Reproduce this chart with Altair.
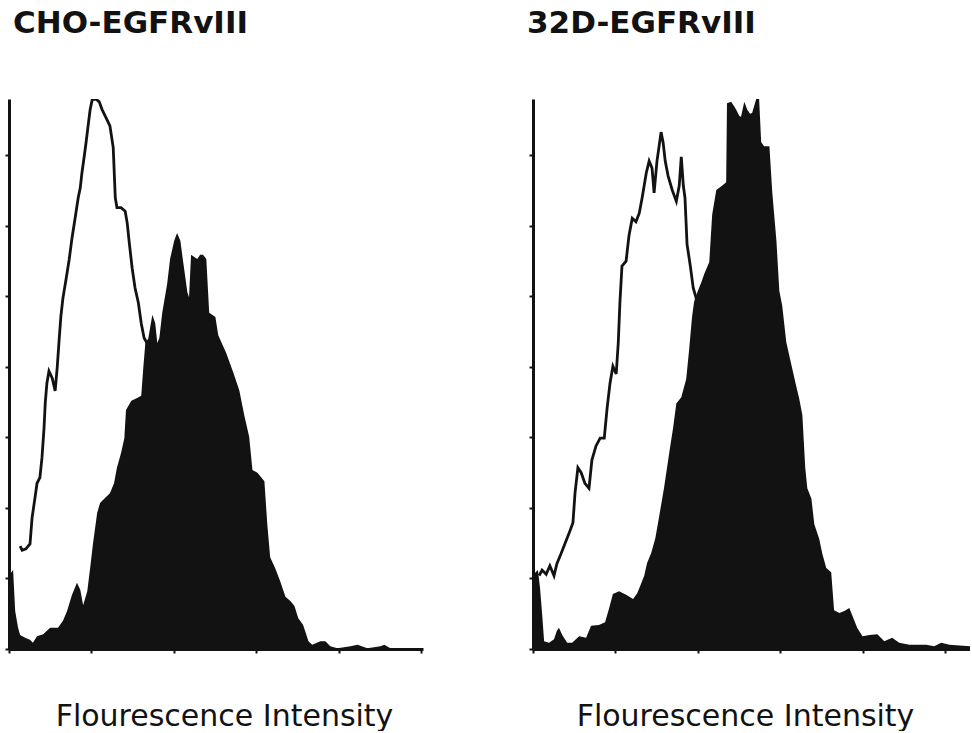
import altair as alt
import pandas as pd

# ---------------- data (channel, event count) ----------------
# CHO-EGFRvIII : control (open outline)
cho_ctrl_x = [27, 32, 41, 51, 56, 63, 68, 75, 80, 85, 88, 92, 97, 105, 112, 117, 122, 126, 131, 139,
              146, 153, 160, 168, 173, 177, 182, 187, 192, 197, 202, 211, 219, 226, 236, 245, 253, 258, 262, 272,
              282, 287, 292, 299, 306, 314, 321, 328, 335, 343, 367, 403, 440, 464]
cho_ctrl_y = [14.6, 14.0, 14.2, 14.9, 18.6, 21.4, 23.5, 24.3, 27.1, 31.3, 34.9, 37.7, 39.4, 38.4, 36.6, 39.9, 44.1, 47.2, 49.8, 52.6,
              55.2, 58.3, 60.9, 64.0, 65.4, 67.5, 69.6, 71.8, 74.2, 76.5, 77.9, 78.0, 77.6, 76.5, 75.3, 74.2, 71.1, 64.0, 62.6, 62.6,
              62.1, 60.4, 57.6, 54.0, 51.2, 49.1, 46.2, 44.1, 43.4, 38.4, 28.5, 12.9, 1.6, 0.0]
# CHO-EGFRvIII : antibody stained (filled)
cho_stain_x = [0, 2, 5, 10, 15, 22, 27, 39, 51, 58, 68, 83, 100, 119, 131, 141, 153, 165, 173, 180,
               190, 197, 204, 214, 221, 233, 245, 255, 262, 272, 280, 284, 297, 311, 321, 326, 331, 338, 348, 355,
               360, 365, 372, 384, 391, 401, 408, 416, 423, 433, 437, 442, 457, 464, 471, 479, 486, 501, 508, 527,
               544, 559, 571, 583, 591, 603, 620, 627, 634, 646, 659, 671, 683, 693, 702, 714, 727, 736, 756, 768,
               780, 797, 829, 846, 870, 902, 911, 926, 1001]
cho_stain_y = [0.0, 7.2, 10.8, 11.2, 5.4, 3.0, 2.0, 1.6, 1.3, 0.9, 1.8, 2.1, 3.0, 3.0, 4.0, 5.4, 7.7, 9.4, 8.4, 6.2,
               8.2, 11.5, 15.0, 19.3, 20.7, 21.4, 22.1, 23.5, 25.7, 27.8, 29.9, 33.9, 35.2, 35.6, 35.9, 39.9, 43.4, 44.0, 47.4, 46.2,
               43.4, 44.1, 47.7, 51.8, 55.3, 57.9, 59.0, 57.9, 54.8, 50.6, 49.9, 55.9, 55.3, 55.9, 55.9, 55.3, 47.7, 47.1, 44.5, 42.0,
               39.3, 36.7, 33.2, 30.1, 25.4, 25.0, 23.8, 17.7, 13.0, 11.5, 9.5, 7.4, 6.8, 6.1, 4.4, 3.4, 1.1, 0.6, 1.1, 1.1,
               0.4, 0.1, 0.4, 0.6, 0.1, 0.4, 0.6, 0.1, 0.1]

# 32D-EGFRvIII : control (open outline)
d32_ctrl_x = [15, 22, 32, 41, 51, 58, 68, 78, 88, 97, 102, 109, 117, 126, 136, 143, 153, 163, 173, 180,
              187, 194, 202, 207, 211, 216, 226, 233, 241, 250, 258, 265, 275, 282, 289, 294, 301, 311, 316, 321,
              328, 338, 348, 355, 360, 365, 369, 374, 382, 389, 396, 416, 452, 501, 549]
d32_ctrl_y = [10.4, 11.2, 10.6, 11.8, 10.4, 12.1, 13.5, 15.0, 16.5, 17.9, 22.1, 25.7, 25.0, 23.5, 22.8, 26.8, 28.8, 29.9, 29.9, 34.2,
              37.7, 40.1, 39.0, 43.4, 49.1, 54.3, 55.0, 58.6, 61.1, 60.6, 61.8, 64.0, 67.5, 69.2, 68.2, 64.7, 69.2, 73.3, 71.8, 69.2,
              67.1, 65.1, 63.5, 65.7, 69.8, 65.7, 64.0, 57.4, 54.3, 51.2, 49.8, 38.4, 18.6, 4.4, 0.0]
# 32D-EGFRvIII : antibody stained (filled)
d32_stain_x = [0, 2, 5, 12, 17, 22, 27, 39, 51, 58, 63, 71, 83, 95, 112, 129, 141, 160, 175, 185,
               194, 209, 226, 243, 253, 260, 270, 277, 287, 297, 306, 318, 331, 340, 348, 360, 372, 379, 386, 391,
               399, 408, 416, 428, 435, 445, 459, 469, 471, 481, 488, 493, 501, 505, 513, 520, 527, 532, 542, 549,
               554, 561, 574, 581, 591, 598, 605, 615, 627, 639, 646, 654, 661, 666, 676, 683, 695, 702, 712, 724,
               731, 744, 756, 768, 775, 787, 800, 817, 836, 853, 872, 889, 914, 955, 974, 991, 1011, 1062]
d32_stain_y = [0.0, 8.7, 10.8, 11.2, 8.7, 5.1, 1.1, 0.9, 1.4, 2.6, 3.0, 2.0, 0.9, 0.9, 1.8, 1.6, 3.3, 3.4, 3.8, 5.8,
               7.8, 8.2, 7.7, 7.1, 7.9, 8.9, 10.4, 12.2, 13.6, 15.7, 18.7, 22.8, 27.9, 31.3, 34.8, 35.7, 38.3, 42.4, 47.0, 49.2,
               50.6, 51.9, 53.2, 54.9, 61.6, 65.1, 65.7, 66.2, 77.4, 77.6, 77.0, 76.5, 75.6, 75.5, 77.6, 76.5, 75.9, 76.0, 78.0, 78.0,
               71.9, 71.3, 71.3, 64.7, 57.9, 50.8, 48.7, 43.5, 40.4, 37.3, 35.6, 33.2, 25.7, 22.8, 21.3, 17.7, 15.6, 13.6, 11.5, 10.9,
               5.5, 5.1, 5.4, 5.8, 4.8, 3.0, 1.8, 2.0, 2.1, 1.1, 1.6, 0.9, 0.6, 0.6, 0.4, 0.9, 0.6, 0.4]

tick_x = [0, 200, 400, 600, 800, 1000]
tick_y = [0, 10, 20, 30, 40, 50, 60, 70]
titles = ["CHO-EGFRvIII", "32D-EGFRvIII"]
x_title = "Flourescence Intensity"

INK = "#121212"
FONT = "DejaVu Sans"


def panel(title, cx, cy, sx, sy, xmax, width, title_dx, axis_title_x):
    ctrl = pd.DataFrame({"channel": cx, "count": cy})
    stain = pd.DataFrame({"channel": sx, "count": sy})
    xs = alt.Scale(domain=[0, xmax], nice=False, zero=False)
    ys = alt.Scale(domain=[0, 78], nice=False, zero=True)
    xaxis = alt.Axis(values=tick_x, labels=False, grid=False, domainWidth=3, domainColor=INK,
                     tickColor=INK, tickWidth=2, tickSize=4, title=x_title, titleFont=FONT,
                     titleFontSize=30, titleFontWeight="normal", titleColor=INK,
                     titleX=axis_title_x, titleY=76, titleAlign="center", titleBaseline="alphabetic")
    yaxis = alt.Axis(values=tick_y, labels=False, grid=False, domainWidth=3, domainColor=INK,
                     tickColor=INK, tickWidth=2, tickSize=4, title=None)
    line = alt.Chart(ctrl).mark_line(color=INK, strokeWidth=2.8, clip=True).encode(
        x=alt.X("channel:Q", scale=xs, axis=xaxis),
        y=alt.Y("count:Q", scale=ys, axis=yaxis),
        order="channel:Q",
    )
    area = alt.Chart(stain).mark_area(color=INK, opacity=1, clip=True).encode(
        x=alt.X("channel:Q", scale=xs, axis=xaxis),
        y=alt.Y("count:Q", scale=ys, axis=yaxis),
    )
    return alt.layer(line, area).properties(
        width=width, height=550,
        title=alt.TitleParams(title, anchor="start", frame="group", dx=title_dx, offset=35,
                              font=FONT, fontSize=31, fontWeight="bold", color=INK,
                              baseline="alphabetic"),
    )


left = panel(titles[0], cho_ctrl_x, cho_ctrl_y, cho_stain_x, cho_stain_y, 1005, 414, 4, 215)
right = panel(titles[1], d32_ctrl_x, d32_ctrl_y, d32_stain_x, d32_stain_y, 1061, 437, -6, 212)

chart = alt.hconcat(left, right, spacing=104).properties(
    padding={"left": 4, "top": 8, "right": 0, "bottom": 0},
    background="white",
).configure_view(stroke="transparent", strokeWidth=0)

chart.save("out.html", embed_options={"renderer": "svg", "actions": False})
